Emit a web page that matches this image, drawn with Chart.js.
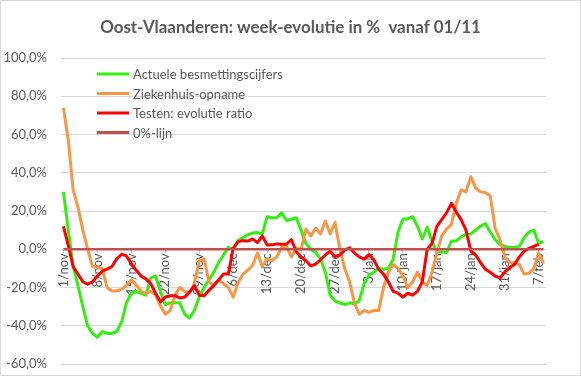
<!DOCTYPE html>
<html><head><meta charset="utf-8">
<script src="https://cdn.jsdelivr.net/npm/chart.js@4"></script>
<style>html,body{margin:0;padding:0;background:#fff}canvas{display:block}</style>
</head><body>
<canvas id="c" width="581" height="376"></canvas>
<script>
const chartTitle = 'Oost-Vlaanderen: week-evolutie in %  vanaf 01/11';
const seriesNames = ['Actuele besmettingscijfers', 'Ziekenhuis-opname', 'Testen: evolutie ratio', '0%-lijn'];
const categories = [
'1/nov','2/nov','3/nov','4/nov','5/nov','6/nov','7/nov','8/nov','9/nov','10/nov',
'11/nov','12/nov','13/nov','14/nov','15/nov','16/nov','17/nov','18/nov','19/nov','20/nov',
'21/nov','22/nov','23/nov','24/nov','25/nov','26/nov','27/nov','28/nov','29/nov','30/nov',
'1/dec','2/dec','3/dec','4/dec','5/dec','6/dec','7/dec','8/dec','9/dec','10/dec',
'11/dec','12/dec','13/dec','14/dec','15/dec','16/dec','17/dec','18/dec','19/dec','20/dec',
'21/dec','22/dec','23/dec','24/dec','25/dec','26/dec','27/dec','28/dec','29/dec','30/dec',
'31/dec','1/jan','2/jan','3/jan','4/jan','5/jan','6/jan','7/jan','8/jan','9/jan',
'10/jan','11/jan','12/jan','13/jan','14/jan','15/jan','16/jan','17/jan','18/jan','19/jan',
'20/jan','21/jan','22/jan','23/jan','24/jan','25/jan','26/jan','27/jan','28/jan','29/jan',
'30/jan','31/jan','1/feb','2/feb','3/feb','4/feb','5/feb','6/feb','7/feb','8/feb'];
const labelEvery = 7;
const yTickValues = [-60,-40,-20,0,20,40,60,80,100];

const besmettingen = [30,10,-9,-19,-30,-40,-44,-46,-43,-44,
-44,-43,-38,-28,-23,-22,-23,-24,-15,-14,
-22,-29,-28,-28,-28,-34,-36,-32,-25,-20,
-16,-12,-7,-3,1,0,4.5,6,7.5,8.5,
8.7,8,17,16.5,16.5,19,15,15.7,16.5,10,
3,0,-1.5,-5,-12,-24,-27,-28,-29,-28,
-28.5,-27,-18,-13.5,-12,-10,-10.5,-10,-5,9,
15.7,16,17,12,5.5,11.5,4,-1.5,-1.5,-1.7,
4.3,4.3,6.5,7.8,8,10,12,13.5,9,5,
2.5,1.5,0.9,0.9,1.5,6,9,10,3,4];
const ziekenhuis = [74,57,31,22,10,0,-9,-9.5,-10,-20,
-21.8,-21.8,-21,-19,-16,-18.5,-22,-23,-22,-24,
-29.6,-34,-32,-24,-20,-22,-23,-18,-6,-5,
-17,-19,-16,-18,-20,-25,-17.5,-13,-11,-8.5,
-2,-9,-5,-6,-4,1,1.5,-4,0.5,0,
10.5,7,11,8,14.8,8,14,0,-10,-17,
-28,-34,-32,-33,-32,-32,-20,-12,-8,-10,
-14,-20,-17,-12,-17,-19,-12,-2,7,10.5,
13,24,31,30,38,32,30,29.6,28,11,
5,-4,-7,-7,-8,-13,-12.5,-10,-2,-7.5];
const testen = [12,2,-9,-13,-17,-18.3,-17,-14,-11.5,-10.4,
-9,-5,-2.6,-3.5,-7.5,-11,-14,-15.5,-18,-23,
-27.5,-25,-24.3,-24.3,-25.5,-25,-22.5,-19,-24,-24.3,
-21.5,-19,-16,-13,-13,0.5,4,4.5,4.3,5.4,
3.5,7,2.2,2.3,2.8,2.6,2.6,5,-1.2,-4,
-6,-8.7,-7.8,-5.5,-3,-1,-3.8,-3,-0.5,0.8,
-2,-4,-5.2,-2.8,-5.5,-10.5,-13,-17,-22,-23,
-25,-23,-24,-22,-17,0,3,12,15.5,19,
24,19.5,15.5,10,-0.9,-3,-7,-10.5,-12,-14,
-15,-12,-9.6,-8,-4,-1,0.5,1.5,2.6,null];
const nulLijn = [0,0,0,0,0,0,0,0,0,0,0,0,0,0,0,0,0,0,0,0,0,0,0,0,0,0,0,0,0,0,0,0,0,0,0,0,0,0,0,0,0,0,0,0,0,0,0,0,0,0,
0,0,0,0,0,0,0,0,0,0,0,0,0,0,0,0,0,0,0,0,0,0,0,0,0,0,0,0,0,0,0,0,0,0,0,0,0,0,0,0,0,0,0,0,0,0,0,0,0,0];

const colors = ['#33EE11', '#F79646', '#FF0000', '#C0504D'];
const textColor = '#595959';
const FONT = 'Lato, "Open Sans", sans-serif';

const decor = {
  id: 'decor',
  afterDraw(chart) {
    const ctx = chart.ctx;
    ctx.save();
    ctx.fillStyle = textColor;
    ctx.font = 'bold 16px ' + FONT;
    const w16 = ctx.measureText(chartTitle).width;
    const size = 16 * 381 / w16;
    ctx.font = 'bold ' + size.toFixed(2) + 'px ' + FONT;
    ctx.textAlign = 'center';
    ctx.textBaseline = 'middle';
    ctx.fillText(chartTitle, 290.5, 28);
    const rows = [74, 93.5, 113, 132.5];
    ctx.font = '13px ' + FONT;
    ctx.textAlign = 'left';
    chart.data.datasets.forEach((ds, i) => {
      ctx.strokeStyle = ds.borderColor;
      ctx.lineWidth = 3;
      ctx.beginPath();
      ctx.moveTo(97, rows[i]);
      ctx.lineTo(129, rows[i]);
      ctx.stroke();
      ctx.fillStyle = textColor;
      ctx.fillText(ds.label, 133, rows[i] + 1);
    });
    ctx.strokeStyle = '#d9d9d9';
    ctx.lineWidth = 1;
    ctx.strokeRect(0.5, 0.5, 580, 375);
    ctx.restore();
  }
};

function mk(i, data, order, width) {
  return {label: seriesNames[i], data: data, borderColor: colors[i], backgroundColor: colors[i],
    borderWidth: width, pointRadius: 0, tension: 0, order: order, spanGaps: false, borderJoinStyle: 'round'};
}

function noPad(s) { s.paddingTop = 0; s.paddingBottom = 0; s.paddingLeft = 0; s.paddingRight = 0; }

new Chart(document.getElementById('c'), {
  type: 'line',
  data: {
    labels: categories,
    datasets: [mk(0, besmettingen, 4, 3), mk(1, ziekenhuis, 3, 3), mk(2, testen, 2, 3), mk(3, nulLijn, 1, 2.5)]
  },
  options: {
    responsive: false,
    animation: false,
    events: [],
    layout: {padding: {left: 0, right: 35, top: 58, bottom: 12}},
    plugins: {legend: {display: false}, title: {display: false}, tooltip: {enabled: false}},
    scales: {
      x: {
        type: 'category',
        offset: true,
        position: {y: 0},
        border: {display: false},
        afterFit: (s) => { noPad(s); s.height = 0; },
        grid: {drawOnChartArea: false, drawTicks: true, tickLength: 4,
          color: (c) => (c.index % labelEvery === 0 ? '#bfbfbf' : 'rgba(0,0,0,0)')},
        ticks: {autoSkip: false, minRotation: 90, maxRotation: 90, padding: 0, color: textColor,
          font: {family: FONT, size: 13},
          callback: (v, idx) => (idx % labelEvery === 0 ? categories[idx] : '')}
      },
      y: {
        min: -60, max: 100,
        afterFit: (s) => { noPad(s); s.width = 61; },
        afterBuildTicks: (s) => { s.ticks = yTickValues.map(v => ({value: v})); },
        border: {display: false},
        grid: {color: '#d9d9d9', lineWidth: 1, drawTicks: false},
        ticks: {padding: 14, color: textColor, font: {family: FONT, size: 13},
          callback: (v) => v.toFixed(1).replace('.', ',') + '%'}
      }
    }
  },
  plugins: [decor]
});
</script>
</body></html>
